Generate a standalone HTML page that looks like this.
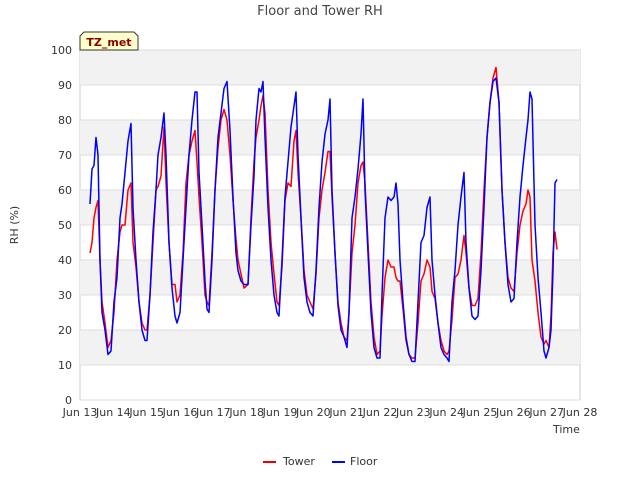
<!DOCTYPE html>
<html><head><meta charset="utf-8"><style>
body{margin:0;background:#fff;font-family:"Liberation Sans","DejaVu Sans",sans-serif}
svg text{font-family:"DejaVu Sans","Liberation Sans",sans-serif}
</style></head><body>
<svg id="c" width="640" height="480" viewBox="0 0 640 480">
<rect width="640" height="480" fill="#fff"/>
<text x="320" y="15" text-anchor="middle" font-size="13" fill="#444">Floor and Tower RH</text>
<g id="bands"></g><g id="grid"></g><g id="ticks"></g>
<text x="553" y="433" font-size="11" fill="#333">Time</text>
<text transform="translate(18,225) rotate(-90)" text-anchor="middle" font-size="11" fill="#333">RH (%)</text>
<g id="series"></g>
<g>
<path d="M80,50 L80,36 L84,32 L134,32 L138,36 L138,50 Z" fill="#ffffcc" stroke="#333" stroke-width="1"/>
<text x="109" y="46" text-anchor="middle" font-size="11" font-weight="bold" fill="#8b0000">TZ_met</text>
</g>
<g>
<line x1="263" y1="462" x2="276" y2="462" stroke="#e00" stroke-width="2"/>
<text x="283" y="465" font-size="11" fill="#333">Tower</text>
<line x1="332" y1="462" x2="345" y2="462" stroke="#00f" stroke-width="2"/>
<text x="350" y="465" font-size="11" fill="#333">Floor</text>
</g>
</svg>
<script>
const xTickLabels=["Jun 13","Jun 14","Jun 15","Jun 16","Jun 17","Jun 18","Jun 19","Jun 20","Jun 21","Jun 22","Jun 23","Jun 24","Jun 25","Jun 26","Jun 27","Jun 28"];
const xTickDays=[13,14,15,16,17,18,19,20,21,22,23,24,25,26,27,28];
const yTicks=[0,10,20,30,40,50,60,70,80,90,100];
const times=[13.30,13.36,13.42,13.48,13.54,13.60,13.66,13.75,13.84,13.93,14.02,14.11,14.20,14.26,14.35,14.44,14.53,14.59,14.68,14.77,14.86,14.95,15.01,15.10,15.19,15.28,15.34,15.43,15.52,15.58,15.67,15.76,15.85,15.91,16.00,16.09,16.18,16.27,16.36,16.45,16.51,16.57,16.66,16.75,16.81,16.87,16.96,17.05,17.14,17.23,17.32,17.41,17.50,17.59,17.68,17.74,17.83,17.92,18.04,18.13,18.22,18.28,18.37,18.43,18.49,18.55,18.64,18.73,18.82,18.91,18.97,19.06,19.15,19.24,19.33,19.42,19.48,19.54,19.63,19.72,19.81,19.90,19.99,20.08,20.17,20.26,20.35,20.44,20.50,20.56,20.65,20.74,20.83,20.92,21.01,21.07,21.16,21.25,21.34,21.43,21.49,21.55,21.64,21.73,21.82,21.91,22.00,22.06,22.15,22.24,22.33,22.42,22.48,22.54,22.60,22.69,22.78,22.87,22.96,23.05,23.14,23.23,23.32,23.41,23.50,23.56,23.65,23.74,23.83,23.92,24.01,24.07,24.16,24.25,24.34,24.43,24.52,24.58,24.67,24.76,24.85,24.94,25.03,25.12,25.21,25.30,25.39,25.48,25.57,25.66,25.75,25.84,25.93,26.02,26.11,26.20,26.29,26.38,26.44,26.50,26.56,26.65,26.74,26.83,26.92,26.98,27.07,27.13,27.19,27.25,27.31];
const floorRH=[56,66,67,75,70,40,25,20,13,14,28,35,52,56,65,74,79,55,40,28,20,17,17,30,48,60,70,75,82,70,45,32,24,22,25,40,55,70,80,88,88,65,50,34,26,25,40,60,75,82,89,91,77,58,42,37,34,33,33,50,64,80,89,88,91,75,55,40,30,25,24,40,58,68,78,84,88,70,52,35,28,25,24,37,55,68,76,80,86,60,42,27,20,18,15,25,52,58,66,76,86,60,42,25,15,12,12,30,52,58,57,58,62,56,40,28,18,13,11,11,28,45,47,55,58,40,30,22,15,13,12,11,28,37,50,58,65,45,32,24,23,24,37,55,75,85,91,92,85,60,45,33,28,29,45,58,67,75,80,88,86,50,35,25,14,12,15,20,37,62,63];
const towerRH=[42,45,52,55,57,40,28,22,15,17,25,40,48,50,50,60,62,45,38,28,22,20,20,30,45,60,61,64,78,62,45,33,33,28,30,42,62,70,74,77,68,58,45,30,28,27,42,60,72,80,83,80,70,57,46,40,36,32,33,52,68,75,80,84,87,82,60,45,36,28,27,38,57,62,61,74,77,65,52,37,30,28,26,36,52,60,65,71,71,58,42,28,22,18,17,25,42,50,62,67,68,62,45,28,18,13,14,24,35,40,38,38,35,34,34,26,17,13,12,12,22,34,36,40,38,31,29,22,17,14,13,14,23,35,36,40,47,42,32,27,27,29,42,60,75,85,92,95,85,60,45,35,32,31,42,50,54,56,60,58,40,34,25,18,16,17,15,24,42,48,43];
const NS="http://www.w3.org/2000/svg";
const X0=80,X1=580,Y0=400,Y1=50;
const xs=d=>X0+(d-13)/15*(X1-X0);
const ys=v=>Y0-v/100*(Y0-Y1);
function mk(tag,attrs,parent){const e=document.createElementNS(NS,tag);for(const k in attrs)e.setAttribute(k,attrs[k]);document.getElementById(parent).appendChild(e);return e;}
const bg=mk('rect',{x:X0,y:Y1,width:X1-X0,height:Y0-Y1,fill:'#fff',stroke:'#ccc'},'bands');


for(let i=0;i<yTicks.length-1;i++){
  if(i%2===1){const b=mk('rect',{x:X0,y:ys(yTicks[i+1]),width:X1-X0,height:ys(yTicks[i])-ys(yTicks[i+1]),fill:'#f2f2f2'},'bands');
  
  }
}
yTicks.forEach(v=>{
  const l=mk('line',{x1:X0,x2:X1,y1:ys(v),y2:ys(v),stroke:'#ddd'},'grid');
  
  
  const t=mk('text',{x:X0-8,y:ys(v)+4,'text-anchor':'end','font-size':11,fill:'#333'},'ticks');
  t.textContent=v;
  
  
});
xTickDays.forEach((d,i)=>{
  const t=mk('text',{x:xs(d),y:Y0+16,'text-anchor':'middle','font-size':11,fill:'#333'},'ticks');
  t.textContent=xTickLabels[i];
  
  
});
function line(vals,color,name){
  const d=vals.map((v,i)=>(i?'L':'M')+xs(times[i]).toFixed(1)+','+ys(v).toFixed(1)).join('');
  const p=mk('path',{d:d,fill:'none',stroke:color,'stroke-width':1.5,'stroke-linejoin':'round'},'series');
  
  
}
line(towerRH,'#f00','tower-line');
line(floorRH,'#00f','floor-line');
</script>
</body></html>
